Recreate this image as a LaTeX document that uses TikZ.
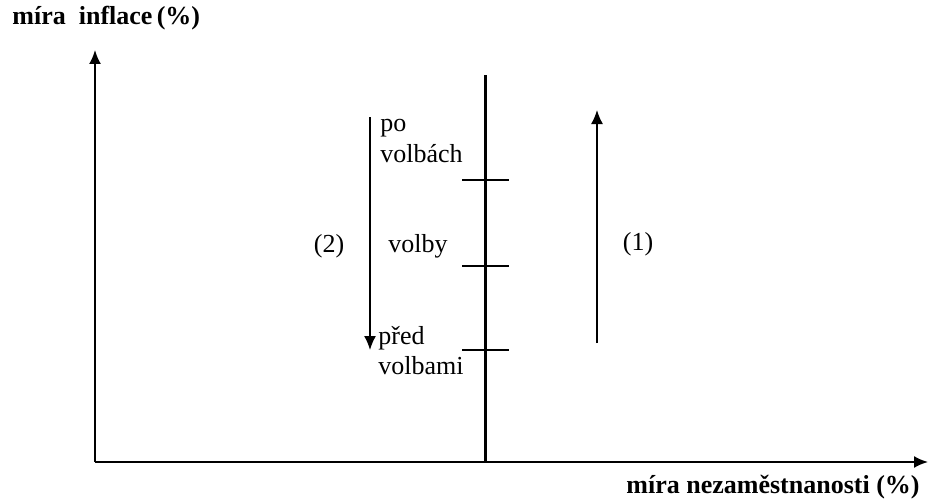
\documentclass[tikz,border=0pt]{standalone}
\usepackage{fontspec}
\setmainfont{Liberation Serif}
\usetikzlibrary{positioning,arrows.meta}

\begin{document}
\begin{tikzpicture}[x=0.5pt,y=0.5pt,font=\fontsize{13}{15}\selectfont,
  axis/.style={line width=1pt,-{Latex[length=7pt,width=6pt]}},
  move/.style={line width=0.8pt,-{Latex[length=7pt,width=6pt]}},
  tick/.style={line width=0.6pt},
  lbl/.style={inner sep=0pt,anchor=west,align=left}]
\useasboundingbox (0,0) rectangle (930,499);
\coordinate (O) at (95,37);
\coordinate (ytop) at (95,449);
\coordinate (xend) at (928,37);
\coordinate (ltop) at (485,424);
\coordinate (lbot) at (485,37);
\draw[axis] (O)--(ytop);
\draw[axis] (O)--(xend);
\draw[line width=1.5pt] (lbot)--(ltop);
% stavy
\foreach \n/\y in {t1/319,t2/233,t3/149}{
  \coordinate (\n) at (485,\y);
  \draw[tick] ([xshift=-11.5pt]\n)--([xshift=12pt]\n);
}
\node[lbl] (po) at (380,358) {po\\volbách};
\node[lbl] (vol) at (388,253) {volby};
\node[lbl] (pred) at (378,148) {před\\volbami};
\coordinate (a2s) at (370,382);
\coordinate (a2e) at (370,149);
\draw[move] (a2s)--(a2e);
\coordinate (a1s) at (597,156);
\coordinate (a1e) at (597,389);
\draw[move] (a1s)--(a1e);
\node (k2) at (329,253) {(2)};
\node (k1) at (638,255) {(1)};
\node[anchor=west,inner sep=0pt,font=\fontsize{13}{15}\selectfont\bfseries] (ylab) at (12,481) {míra\ \ inflace\,(\%)};
\node[anchor=east,inner sep=0pt,font=\fontsize{13}{15}\selectfont\bfseries] (xlab) at (920,12) {míra nezaměstnanosti (\%)};
\end{tikzpicture}
\end{document}
